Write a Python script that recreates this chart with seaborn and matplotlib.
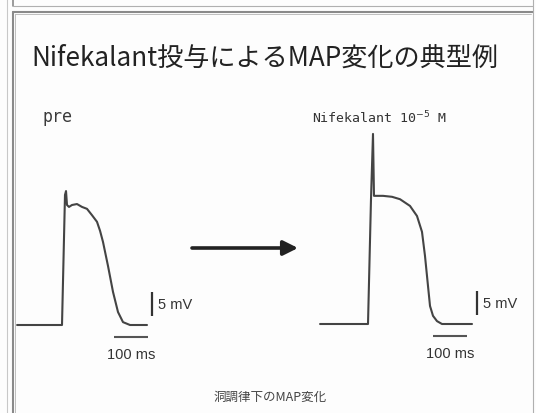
import seaborn as sns
import matplotlib.pyplot as plt
import pandas as pd

# monophasic action potential traces: time from upstroke (ms), amplitude above baseline (mV)
pre_t = [-132, 0, 8.8, 11.8, 14.7, 20.6, 29.4, 44.1, 58.8, 73.5, 88.0, 102.9, 112.0, 120.6,
         135.3, 150.0, 164.7, 179.4, 200.0, 250.0]
pre_v = [0, 0, 27.1, 27.9, 25.0, 24.6, 25.0, 25.2, 24.6, 24.2, 22.9, 21.5, 19.6, 17.3,
         12.3, 6.9, 2.7, 0.6, 0, 0]

post_t = [-141, 0, 8.8, 14.7, 17.6, 44.1, 70.6, 94.1, 123.5, 144.1, 158.8, 167.6, 176.5,
          182.4, 191.2, 202.9, 217.6, 305.9]
post_v = [0, 0, 26.0, 39.6, 26.7, 26.7, 26.5, 26.0, 24.6, 22.5, 19.2, 14.2, 7.9,
          3.75, 1.7, 0.6, 0, 0]

title = "Nifekalant投与によるMAP変化の典型例"
pre_label = "pre"
post_label = "Nifekalant 10$^{-5}$ M"
caption = "洞調律下のMAP変化"
bar_mv = 5      # vertical scale bar, mV
bar_ms = 100    # horizontal scale bar, ms

sns.set_theme(style="white")
plt.rcParams['font.family'] = ['Noto Sans CJK JP', 'DejaVu Sans']

W, H = 536, 414
fig = plt.figure(figsize=(W / 100, H / 100), dpi=100)
fig.patch.set_facecolor("#fdfdfd")

# overlay in pixel coords for frame, arrow and headings
bg = fig.add_axes([0, 0, 1, 1])
bg.set_xlim(0, W)
bg.set_ylim(H, 0)
bg.axis("off")
frame = "#8a8a8a"
bg.plot([7, 7], [0, H], color="#c8c8c8", lw=0.8)
bg.plot([13, 13], [0, 7], color=frame, lw=1.2)
bg.plot([13, 533], [7, 7], color="#b0b0b0", lw=0.8)
bg.plot([13, 13], [13, H], color=frame, lw=1.5)
bg.plot([15, 15], [15, H], color="#b5b5b5", lw=0.6)
bg.plot([13, 533], [13, 13], color=frame, lw=1.5)
bg.plot([15, 531], [15, 15], color="#b5b5b5", lw=0.6)
bg.plot([533, 533], [0, H], color="#b0b0b0", lw=0.8)

bg.text(31, 58, title, fontsize=18.8, color="#222222", va="center", ha="left")
bg.text(43, 117, pre_label, fontsize=12, color="#3a3a3a", va="center", ha="left",
        family="DejaVu Sans Mono")
bg.text(312, 118, post_label, fontsize=9.5, color="#333333", va="center", ha="left",
        family="DejaVu Sans Mono")
bg.text(270, 397, caption, fontsize=9, color="#444444", va="center", ha="center")
bg.annotate("", xy=(298, 249), xytext=(192, 249),
            arrowprops=dict(arrowstyle="-|>", color="#222222", lw=2.6,
                            mutation_scale=22, shrinkA=0, shrinkB=0))

# trace axes: 0.34 px per ms, 4.8 px per mV
px_ms, px_mv = 0.34, 4.8
xlim, ylim = (-160, 360), (-12, 44)


def trace_axes(x0, y0):
    left = x0 + px_ms * xlim[0]
    bottom = y0 - px_mv * ylim[0]
    ax = fig.add_axes([left / W, (H - bottom) / H,
                       px_ms * (xlim[1] - xlim[0]) / W,
                       px_mv * (ylim[1] - ylim[0]) / H])
    ax.set_xlim(*xlim)
    ax.set_ylim(*ylim)
    ax.axis("off")
    ax.patch.set_alpha(0)
    return ax


def draw(ax, t, v, vbar_t, hbar_t0):
    df = pd.DataFrame({"t": t, "v": v})
    sns.lineplot(data=df, x="t", y="v", ax=ax, sort=False, estimator=None,
                 color="#444444", lw=1.5)
    ax.plot([vbar_t, vbar_t], [1.9, 1.9 + bar_mv], color="#333333", lw=1.6,
            solid_capstyle="butt")
    ax.plot([hbar_t0, hbar_t0 + bar_ms], [-2.4, -2.4], color="#555555", lw=1.5,
            solid_capstyle="butt")
    ax.text(vbar_t + 17, 1.9 + bar_mv / 2, f"{bar_mv} mV", fontsize=10.5,
            family="Liberation Sans", color="#333333",
            va="center", ha="left", clip_on=False)
    ax.text(hbar_t0 + bar_ms / 2, -6.0, f"{bar_ms} ms", fontsize=10.5,
            family="Liberation Sans", color="#333333",
            va="center", ha="center", clip_on=False)


ax_pre = trace_axes(62, 326)
draw(ax_pre, pre_t, pre_v, 265, 153)
ax_post = trace_axes(368, 325)
draw(ax_post, post_t, post_v, 320, 191)

fig.savefig("out.png", dpi=100, facecolor=fig.get_facecolor())
